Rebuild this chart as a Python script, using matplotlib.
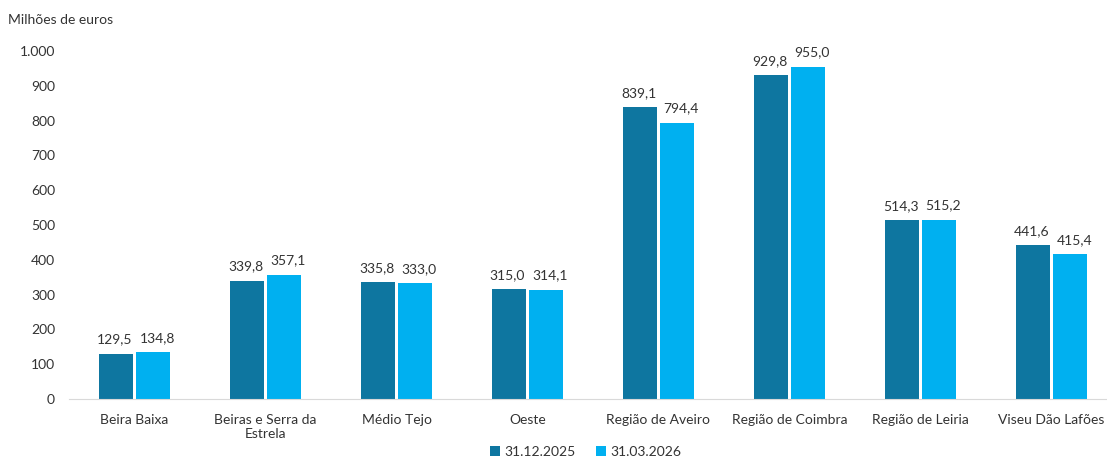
import matplotlib
matplotlib.use("Agg")
import matplotlib.pyplot as plt
import numpy as np

categories = ["Beira Baixa", "Beiras e Serra da\nEstrela", "Médio Tejo", "Oeste",
              "Região de Aveiro", "Região de Coimbra", "Região de Leiria", "Viseu Dão Lafões"]
series_names = ["31.12.2025", "31.03.2026"]
values_2025 = [129.5, 339.8, 335.8, 315.0, 839.1, 929.8, 514.3, 441.6]
values_2026 = [134.8, 357.1, 333.0, 314.1, 794.4, 955.0, 515.2, 415.4]
yticks = [0, 100, 200, 300, 400, 500, 600, 700, 800, 900, 1000]

plt.rcParams['font.family'] = ['Lato', 'DejaVu Sans']
fig = plt.figure(figsize=(11.07, 4.61), dpi=100)
ax = fig.add_axes([69/1107, (461-399)/461, (1117-69)/1107, (399-51)/461])

x = np.arange(len(categories))
w = 0.26
gap = 0.012
c1, c2 = "#0E76A0", "#00B0F0"
b1 = ax.bar(x - w/2 - gap, values_2025, w, color=c1, label=series_names[0])
b2 = ax.bar(x + w/2 + gap, values_2026, w, color=c2, label=series_names[1])

def fmt(v):
    return f"{v:.1f}".replace(".", ",")

for bars, vals, dx in ((b1, values_2025, -1), (b2, values_2026, 3)):
    for r, v in zip(bars, vals):
        ax.annotate(fmt(v), (r.get_x() + r.get_width()/2, v), xytext=(dx, 6),
                    textcoords="offset points", ha="center", va="bottom",
                    fontsize=10, color="#333333")

ax.set_xlim(-0.5, len(categories) - 0.5)
ax.set_ylim(0, 1000)
ax.set_yticks(yticks)
ax.set_yticklabels([f"{t:,}".replace(",", ".") for t in yticks])
ax.set_xticks(x)
ax.set_xticklabels(categories)
ax.tick_params(axis='both', length=0, labelsize=10, colors="#333333")
ax.tick_params(axis='y', pad=10)
ax.tick_params(axis='x', pad=11)
for s in ["top", "right", "left"]:
    ax.spines[s].set_visible(False)
ax.spines["bottom"].set_color("#D9D9D9")

fig.text(8/1107, 1 - 20/461, "Milhões de euros", fontsize=10, color="#333333", va="center")

ax.legend(loc="center", bbox_to_anchor=(0.493, -53/348), ncol=2, frameon=False,
          fontsize=10, handlelength=0.7, handleheight=0.7, columnspacing=1.5,
          handletextpad=0.3, labelcolor="#333333")

fig.savefig("out.png", dpi=100)
